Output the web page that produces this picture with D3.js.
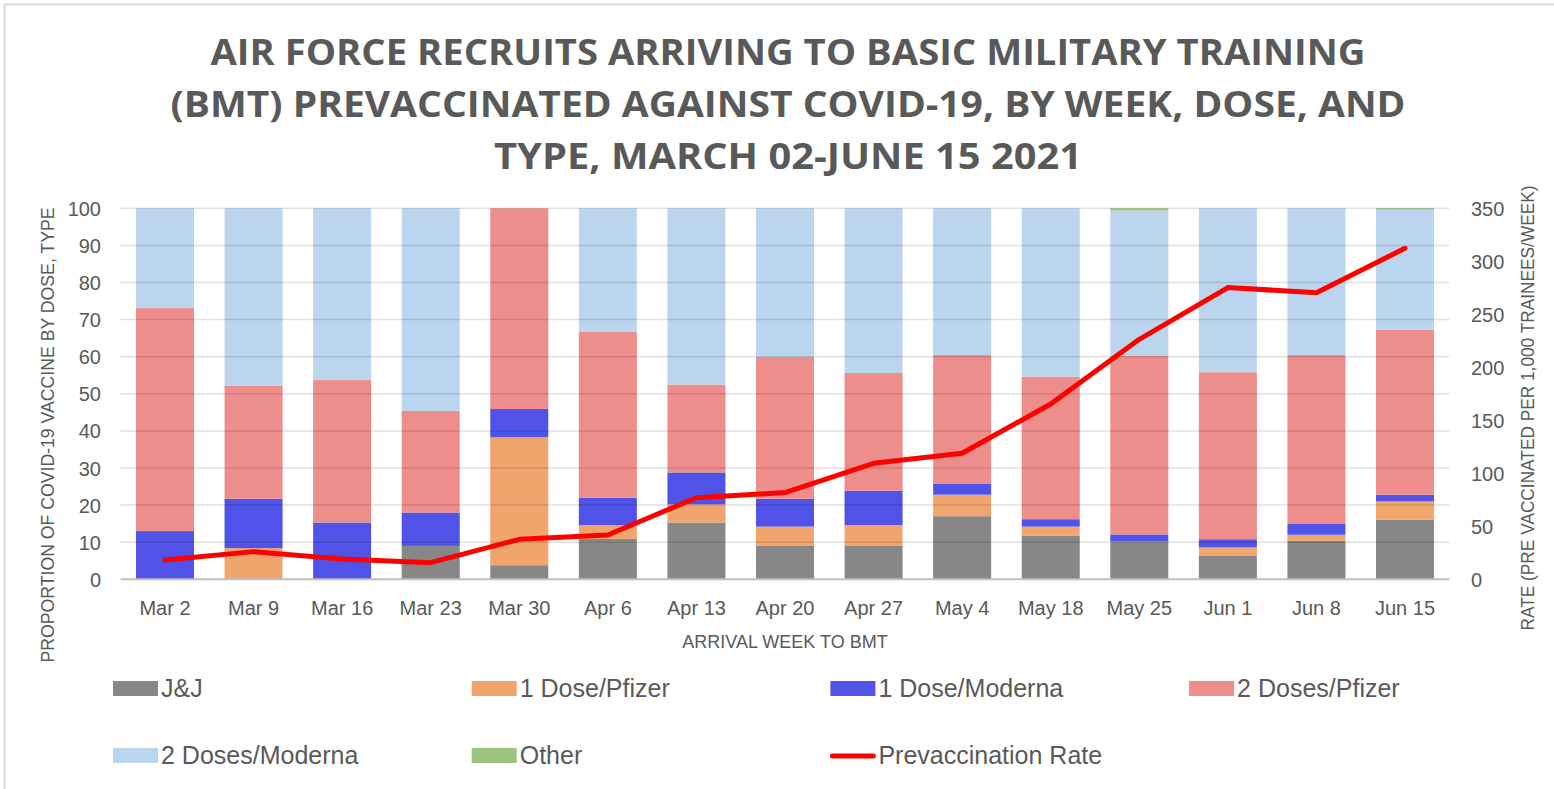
<!DOCTYPE html>
<html>
<head>
<meta charset="utf-8">
<script src="https://cdn.jsdelivr.net/npm/d3@7"></script>
<style>
  body { margin: 0; background: #fff; }
  svg { display: block; }
  .tick-label { font-family: "Liberation Sans", sans-serif; fill: #595959; }
</style>
</head>
<body>
<div id="chart"></div>
<script>
// data
var weeks = ["Mar 2", "Mar 9", "Mar 16", "Mar 23", "Mar 30", "Apr 6", "Apr 13", "Apr 20",
             "Apr 27", "May 4", "May 18", "May 25", "Jun 1", "Jun 8", "Jun 15"];

var jnj      = [0, 0, 0, 9.0, 3.8, 10.9, 15.3, 9.0, 9.0, 17.0, 11.8, 10.2, 6.3, 10.4, 16.1];
var pfizer1  = [0, 8.4, 0, 0, 34.5, 3.7, 4.9, 5.2, 5.6, 5.8, 2.4, 0, 2.3, 1.6, 4.9];
var moderna1 = [13.0, 13.3, 15.3, 9.0, 7.6, 7.4, 8.6, 7.5, 9.3, 2.9, 2.0, 1.9, 2.2, 2.9, 1.8];
var pfizer2  = [60.1, 30.5, 38.4, 27.4, 54.1, 44.7, 23.7, 38.2, 31.7, 34.8, 38.4, 48.1, 45.0, 45.6, 44.5];
var moderna2 = [26.9, 47.8, 46.3, 54.6, 0, 33.3, 47.5, 40.1, 44.4, 39.5, 45.4, 39.2, 44.2, 39.5, 32.3];
var other    = [0, 0, 0, 0, 0, 0, 0, 0, 0, 0, 0, 0.6, 0, 0, 0.4];

var rate = [18.2, 26.1, 19.2, 15.7, 37.7, 41.8, 77.0, 81.8, 109.4, 118.9, 165.4, 226.4, 275.2, 270.4, 312.3];

var leftTicks = [0, 10, 20, 30, 40, 50, 60, 70, 80, 90, 100];
var rightTicks = [0, 50, 100, 150, 200, 250, 300, 350];

var seriesNames = ["J&J", "1 Dose/Pfizer", "1 Dose/Moderna", "2 Doses/Pfizer", "2 Doses/Moderna", "Other"];
var seriesValues = [jnj, pfizer1, moderna1, pfizer2, moderna2, other];
var seriesColors = ["#878787", "#F1A46C", "#5152E8", "#EE8E8C", "#BCD5EE", "#9DC47E"];
var lineName = "Prevaccination Rate";

var titleLines = ["AIR FORCE RECRUITS ARRIVING TO BASIC MILITARY TRAINING",
                  "(BMT) PREVACCINATED AGAINST COVID-19, BY WEEK, DOSE, AND",
                  "TYPE, MARCH 02-JUNE 15 2021"];

var W = 1554, H = 789;
var plot = { left: 120.7, right: 1449.3, top: 208.3, bottom: 579.3 };

var svg = d3.select("#chart").append("svg")
    .attr("width", W)
    .attr("height", H);

// light frame round the chart area
svg.append("path")
    .attr("d", "M4.5,789 V4.5 H1554")
    .attr("fill", "none")
    .attr("stroke", "#d9d9d9")
    .attr("stroke-width", 2);

// title
var titleWidths = [1155, 1235, 588];
svg.selectAll(".title")
    .data(titleLines)
    .enter()
    .append("text")
    .attr("class", "title")
    .attr("x", 788)
    .attr("y", function(d, i) { return 65 + i * 52; })
    .attr("text-anchor", "middle")
    .attr("textLength", function(d, i) { return titleWidths[i]; })
    .attr("lengthAdjust", "spacingAndGlyphs")
    .style("font-family", "'Open Sans', sans-serif")
    .style("font-weight", "bold")
    .style("font-size", "36px")
    .style("fill", "#595959")
    .text(function(d) { return d; });

// scales
var x = d3.scaleBand()
    .domain(weeks)
    .range([plot.left, plot.right])
    .paddingInner(0.345)
    .paddingOuter(0.1725);

var y = d3.scaleLinear()
    .domain([0, 100])
    .range([plot.bottom, plot.top]);

var y2 = d3.scaleLinear()
    .domain([0, 350])
    .range([plot.bottom, plot.top]);

// stacked table
var table = weeks.map(function(w, i) {
    var row = { week: w };
    seriesNames.forEach(function(s, j) { row[s] = seriesValues[j][i]; });
    return row;
});
var stacked = d3.stack().keys(seriesNames)(table);

// bars
svg.append("g")
    .selectAll("g")
    .data(stacked)
    .enter()
    .append("g")
    .attr("fill", function(d, i) { return seriesColors[i]; })
    .selectAll("rect")
    .data(function(d) { return d; })
    .enter()
    .append("rect")
    .attr("x", function(d) { return x(d.data.week); })
    .attr("y", function(d) { return y(d[1]); })
    .attr("height", function(d) { return y(d[0]) - y(d[1]); })
    .attr("width", x.bandwidth());

// gridlines on top, faint, so they show through the bars like the original
svg.append("g")
    .selectAll("line")
    .data(leftTicks.filter(function(t) { return t > 0; }))
    .enter()
    .append("line")
    .attr("x1", plot.left)
    .attr("x2", plot.right)
    .attr("y1", function(d) { return y(d); })
    .attr("y2", function(d) { return y(d); })
    .attr("stroke", "#000")
    .attr("stroke-opacity", 0.12)
    .attr("stroke-width", 1.5);

svg.append("line")
    .attr("x1", plot.left)
    .attr("x2", plot.right)
    .attr("y1", y(0))
    .attr("y2", y(0))
    .attr("stroke", "#bfbfbf")
    .attr("stroke-width", 2);

// left axis
var yAxis = d3.axisLeft(y).tickValues(leftTicks).tickSize(0).tickPadding(0);
var yAxisGroup = svg.append("g")
    .attr("transform", "translate(101,0)")
    .call(yAxis);
yAxisGroup.select(".domain").remove();
yAxisGroup.selectAll("text")
    .attr("class", "tick-label")
    .style("font-size", "20px")
    .attr("dy", "0.35em");

// right axis
var y2Axis = d3.axisRight(y2).tickValues(rightTicks).tickSize(0).tickPadding(0);
var y2AxisGroup = svg.append("g")
    .attr("transform", "translate(1471,0)")
    .call(y2Axis);
y2AxisGroup.select(".domain").remove();
y2AxisGroup.selectAll("text")
    .attr("class", "tick-label")
    .style("font-size", "20px")
    .attr("dy", "0.35em");

// bottom axis
var xAxis = d3.axisBottom(x).tickSize(0).tickPadding(0);
var xAxisGroup = svg.append("g")
    .attr("transform", "translate(0," + plot.bottom + ")")
    .call(xAxis);
xAxisGroup.select(".domain").remove();
xAxisGroup.selectAll("text")
    .attr("class", "tick-label")
    .style("font-size", "20px")
    .attr("y", 36)
    .attr("dy", 0);

// axis titles
svg.append("text")
    .attr("class", "tick-label")
    .attr("x", 785)
    .attr("y", 648)
    .attr("text-anchor", "middle")
    .style("font-size", "18px")
    .text("ARRIVAL WEEK TO BMT");

svg.append("text")
    .attr("class", "tick-label")
    .attr("transform", "translate(54,435) rotate(-90)")
    .attr("text-anchor", "middle")
    .attr("textLength", 455)
    .attr("lengthAdjust", "spacingAndGlyphs")
    .style("font-size", "19px")
    .text("PROPORTION OF COVID-19 VACCINE BY DOSE, TYPE");

svg.append("text")
    .attr("class", "tick-label")
    .attr("transform", "translate(1534,408) rotate(-90)")
    .attr("text-anchor", "middle")
    .attr("textLength", 445)
    .attr("lengthAdjust", "spacingAndGlyphs")
    .style("font-size", "19px")
    .text("RATE (PRE VACCINATED PER 1,000 TRAINEES/WEEK)");

// rate line
var line = d3.line()
    .x(function(d, i) { return x(weeks[i]) + x.bandwidth() / 2; })
    .y(function(d) { return y2(d); });

svg.append("path")
    .datum(rate)
    .attr("d", line)
    .attr("fill", "none")
    .attr("stroke", "#ff0000")
    .attr("stroke-width", 5)
    .attr("stroke-linejoin", "round")
    .attr("stroke-linecap", "round");

// legend
var legendItems = seriesNames.concat([lineName]);
var legend = svg.append("g").selectAll("g")
    .data(legendItems)
    .enter()
    .append("g")
    .attr("transform", function(d, i) {
        return "translate(" + (113 + (i % 4) * 358.7) + "," + (681 + Math.floor(i / 4) * 67) + ")";
    });

legend.each(function(d, i) {
    var g = d3.select(this);
    if (i < seriesNames.length) {
        g.append("rect")
            .attr("width", 45)
            .attr("height", 15)
            .attr("fill", seriesColors[i]);
    } else {
        g.append("line")
            .attr("x1", 2).attr("x2", 43)
            .attr("y1", 8).attr("y2", 8)
            .attr("stroke", "#ff0000")
            .attr("stroke-width", 5)
            .attr("stroke-linecap", "round");
    }
    g.append("text")
        .attr("class", "tick-label")
        .attr("x", 48)
        .attr("y", 16)
        .style("font-size", "25px")
        .text(d);
});
</script>
</body>
</html>
